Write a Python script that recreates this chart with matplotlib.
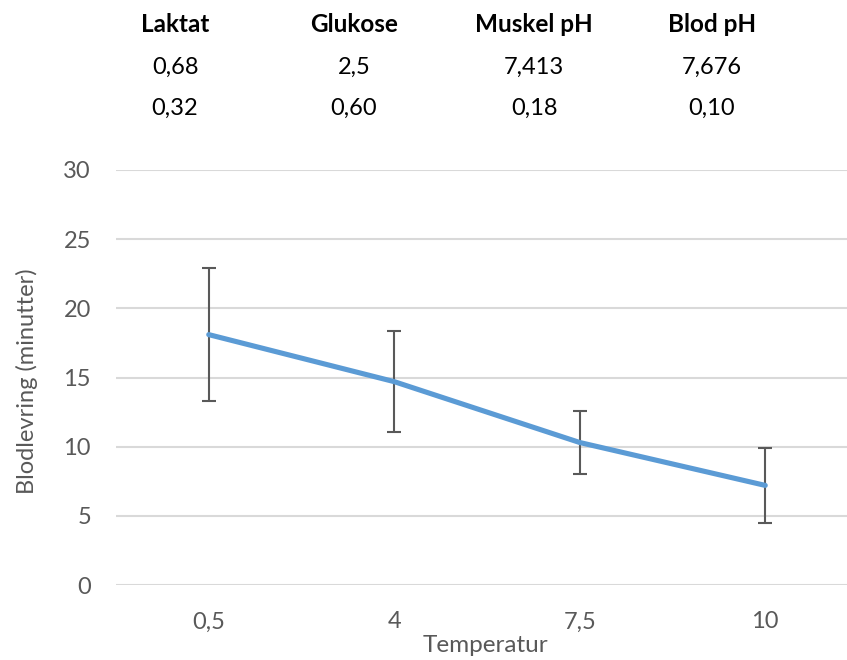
import numpy as np
import matplotlib.pyplot as plt

plt.rcParams['font.family'] = ['Lato', 'DejaVu Sans']

# temperatur-grupper og blodlevringstid
temperatur = ['0,5', '4', '7,5', '10']
blodlevring = [18.1, 14.7, 10.3, 7.2]
std_avvik = [4.8, 3.65, 2.25, 2.7]

# tabell over figuren
kolonner = ['Laktat', 'Glukose', 'Muskel pH', 'Blod pH']
rad1 = ['0,68', '2,5', '7,413', '7,676']
rad2 = ['0,32', '0,60', '0,18', '0,10']

W, H = 847, 660
fig = plt.figure(figsize=(W / 100, H / 100), dpi=100)
ax = fig.add_axes([116 / W, 1 - 585 / H, (858 - 116) / W, (585 - 170) / H])

grey = '#595959'
fs = 17
x = np.arange(len(temperatur))
ax.errorbar(x, blodlevring, yerr=std_avvik, fmt='none', ecolor=grey,
            elinewidth=1.5, capsize=5, capthick=1.5, zorder=2)
ax.plot(x, blodlevring, color='#5B9BD5', lw=3.7, solid_capstyle='round', zorder=3)

ax.set_xlim(-0.5, len(temperatur) - 0.5)
ax.set_ylim(0, 30)
ax.set_yticks(np.arange(0, 31, 5))
ax.set_xticks(x)
ax.set_xticklabels(temperatur)
ax.yaxis.grid(True, color='#D9D9D9', lw=1.5)
ax.set_axisbelow(True)
for s in ax.spines.values():
    s.set_visible(False)
ax.tick_params(axis='both', length=0, labelsize=fs, labelcolor=grey)
ax.tick_params(axis='y', pad=18)
ax.tick_params(axis='x', pad=19)

ax.set_ylabel('Blodlevring (minutter)', fontsize=fs, color=grey)
ax.yaxis.set_label_coords((38 - 116) / (858 - 116), 0.49)
ax.set_xlabel('Temperatur', fontsize=fs + 0.5, color=grey)
ax.xaxis.set_label_coords((485 - 116) / (858 - 116), (585 - 645) / (585 - 170))
ax.xaxis.label.set_va('center')

xs = [175, 354, 534, 712]
for i, k in enumerate(kolonner):
    fig.text(xs[i] / W, 1 - 25 / H, k, ha='center', va='center',
             fontsize=fs + 0.5, fontweight='bold', color='black')
    fig.text(xs[i] / W, 1 - 67 / H, rad1[i], ha='center', va='center',
             fontsize=fs, color='black')
    fig.text(xs[i] / W, 1 - 108 / H, rad2[i], ha='center', va='center',
             fontsize=fs, color='black')

fig.savefig('out.png', dpi=100)
